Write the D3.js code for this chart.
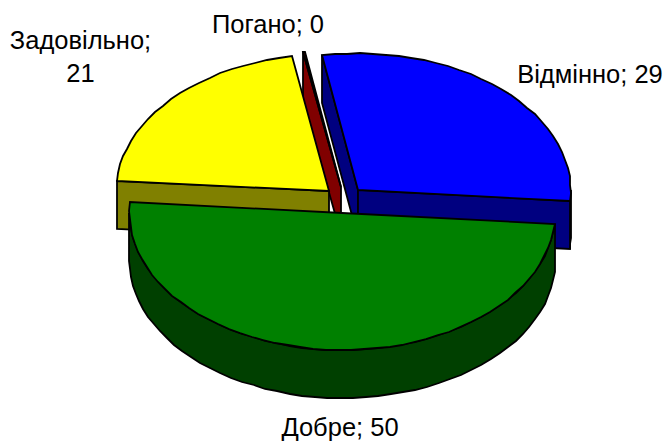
<!DOCTYPE html>
<html><head><meta charset="utf-8">
<script src="https://cdn.jsdelivr.net/npm/d3@7"></script>
<style>html,body{margin:0;padding:0;background:#fff}svg{display:block}text{font-family:"Liberation Sans",Arial,sans-serif;font-size:25.5px;fill:#000}</style>
</head><body><svg id="c" width="665" height="441"></svg>
<script>
const categories = ["Відмінно","Добре","Задовільно","Погано"];
const values = [29,50,21,0.1];
const shownValues = [29,50,21,0];
const topColors = ["#0000ff","#008000","#ffff00","#ff0000"];
const wallColors = ["#000080","#004000","#808000","#800000"];
const drawOrder = ["Відмінно","Погано","Задовільно","Добре"];

const W=665,H=441, cx=344, cy=200, rx=213, ry=137, depth=48, explode=0.095, deg=Math.PI/180;
const svg=d3.select("#c");
const pie=d3.pie().sort(null).startAngle(-9.7*deg).endAngle(350.3*deg).value(d=>d.value);
const arcs=pie(categories.map((name,i)=>({name,value:values[i],top:topColors[i],wall:wallColors[i],shown:shownValues[i]})));

const px=d3.scaleLinear().domain([-1,1]).range([-rx,rx]);
const py=d3.scaleLinear().domain([-1,1]).range([-ry,ry]);
const line=d3.line().x(d=>Math.round(d[0])).y(d=>Math.round(d[1]));
const stroke=(sel,fill)=>sel.attr("fill",fill).attr("stroke","#000").attr("stroke-width",1.8).attr("stroke-linejoin","miter");

function centre(a){const m=(a.startAngle+a.endAngle)/2;return [cx+px(Math.sin(m))*explode,cy-py(Math.cos(m))*explode];}
function rim(c,a){return [c[0]+px(Math.sin(a)),c[1]-py(Math.cos(a))];}
function samples(a0,a1){const n=Math.max(1,Math.ceil((a1-a0)/(3.5*deg)));return d3.range(n+1).map(i=>a0+(a1-a0)*i/n);}

drawOrder.forEach(name=>{
  const a=arcs.find(d=>d.data.name===name), c=centre(a), g=svg.append("g");
  const sideWall=ang=>{const r=rim(c,ang);
    g.append("path").call(stroke,a.data.wall).attr("d",line([r,c,[c[0],c[1]+depth],[r[0],r[1]+depth]])+"Z");};
  // outer rim wall: only the part facing the viewer
  const lo=Math.max(a.startAngle,90*deg), hi=Math.min(a.endAngle,270*deg);
  if(hi>lo){const top=samples(lo,hi).map(t=>rim(c,t));
    g.append("path").call(stroke,a.data.wall).attr("d",line(top.concat(top.slice().reverse().map(p=>[p[0],p[1]+depth])))+"Z");}
  if(Math.sin(a.startAngle)<0) sideWall(a.startAngle);
  if(Math.sin(a.endAngle)>0) sideWall(a.endAngle);
  g.append("path").call(stroke,a.data.top).attr("d",line([c].concat(samples(a.startAngle,a.endAngle).map(t=>rim(c,t))))+"Z");
});

const labelPos={"Відмінно":[590,83],"Погано":[268,33],"Задовільно":[80.5,49],"Добре":[340,435.5]};
arcs.forEach(a=>{
  const p=labelPos[a.data.name];
  if(a.data.name==="Задовільно"){
    const t=svg.append("text").attr("text-anchor","middle").attr("x",p[0]).attr("y",p[1]);
    t.append("tspan").attr("x",p[0]).text(a.data.name+";");
    t.append("tspan").attr("x",p[0]).attr("dy",33).text(a.data.shown);
  } else svg.append("text").attr("text-anchor","middle").attr("x",p[0]).attr("y",p[1]).text(a.data.name+"; "+a.data.shown);
});
</script></body></html>
